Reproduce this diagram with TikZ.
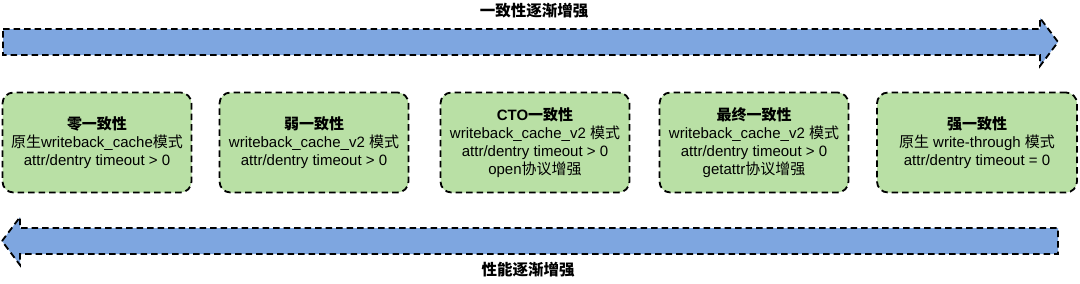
\documentclass[tikz,border=0pt]{standalone}
\usepackage{fontspec}
\setmainfont{Liberation Sans}
\newfontfamily\cjk{Noto Sans CJK SC}
\newcommand\zh[1]{{\cjk #1}}
\definecolor{arrowblue}{HTML}{7EA6E0}
\definecolor{boxgreen}{HTML}{B9E0A5}
\tikzset{
  dashline/.style={draw=black, line width=1.8pt, dash pattern=on 6.5pt off 4pt},
  bigarrow/.style={dashline, fill=arrowblue},
  levelbox/.style={dashline, fill=boxgreen, rounded corners=11pt, minimum width=189pt,
    minimum height=100pt, inner sep=0pt, align=center,
    font=\fontsize{15}{18}\selectfont},
  axislabel/.style={font=\fontsize{15.5}{18}\selectfont\bfseries, inner sep=0pt},
}
\begin{document}
\begin{tikzpicture}[x=1pt,y=-1pt]
\useasboundingbox (0,0) rectangle (1080,284);
% top arrow
\draw[bigarrow] (3,29) -- (1040,29) -- (1040,18) -- (1058,42) -- (1040,66) -- (1040,55) -- (3,55) -- cycle;
\node[axislabel] (toplabel) at (534,11) {\zh{一致性逐渐增强}};
% bottom arrow
\draw[bigarrow] (2,241) -- (20,217) -- (20,228) -- (1058,228) -- (1058,254) -- (20,254) -- (20,265) -- cycle;
\node[axislabel] (botlabel) at (528,270) {\zh{性能逐渐增强}};
% boxes
\node[levelbox] (b1) at (97,142.5) {\textbf{\zh{零一致性}}\\\zh{原生}writeback\_cache\zh{模式}\\attr/dentry timeout > 0};
\node[levelbox] (b2) at (314,142.5) {\textbf{\zh{弱一致性}}\\writeback\_cache\_v2 \zh{模式}\\attr/dentry timeout > 0};
\node[levelbox] (b3) at (535,142.5) {\textbf{CTO\zh{一致性}}\\writeback\_cache\_v2 \zh{模式}\\attr/dentry timeout > 0\\open\zh{协议增强}};
\node[levelbox] (b4) at (754,142.5) {\textbf{\zh{最终一致性}}\\writeback\_cache\_v2 \zh{模式}\\attr/dentry timeout > 0\\getattr\zh{协议增强}};
\node[levelbox, minimum width=200pt] (b5) at (977,142.5) {\textbf{\zh{强一致性}}\\\zh{原生} write-through \zh{模式}\\attr/dentry timeout = 0};
\end{tikzpicture}
\end{document}
